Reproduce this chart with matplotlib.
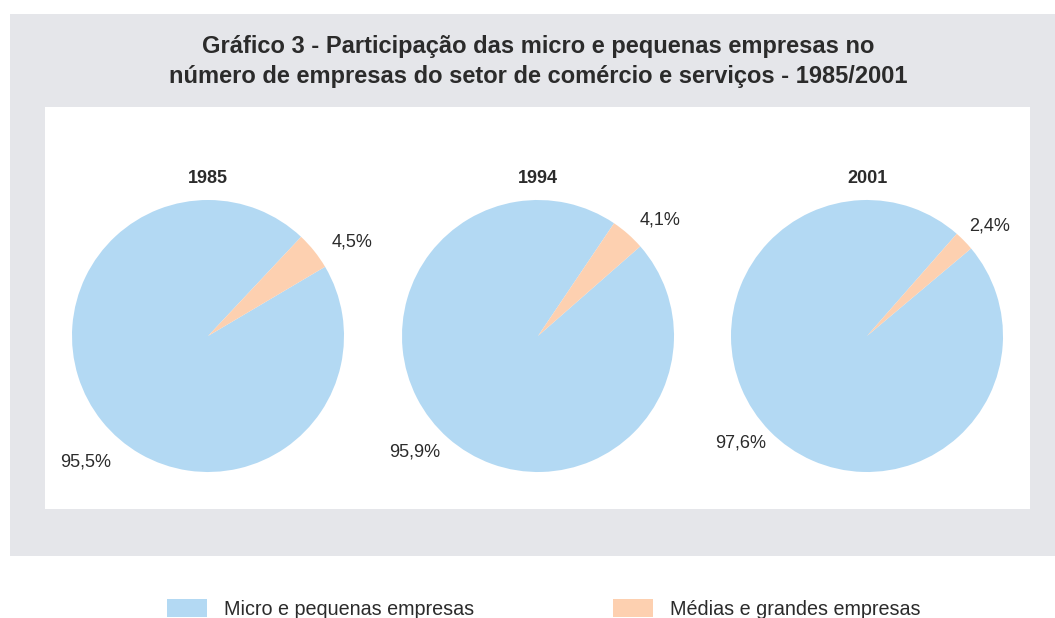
import matplotlib.pyplot as plt
from matplotlib.patches import Rectangle, Patch

plt.rcParams['font.family'] = ['Liberation Sans', 'DejaVu Sans']

years = ['1985', '1994', '2001']
micro = [95.5, 95.9, 97.6]
medias = [4.5, 4.1, 2.4]
micro_lbl = ['95,5%', '95,9%', '97,6%']
medias_lbl = ['4,5%', '4,1%', '2,4%']
series_names = ['Micro e pequenas empresas', 'Médias e grandes empresas']

blue = '#b3d9f3'
orange = '#fdd0b0'
txt = '#2b2b2b'

W, H = 1055, 618
fig = plt.figure(figsize=(W / 100, H / 100), dpi=100)

def fx(x):
    return x / W

def fy(y):
    return (H - y) / H

# gray panel and white box
fig.patches.append(Rectangle((fx(10), fy(556)), fx(1055) - fx(10), fy(14) - fy(556),
                             transform=fig.transFigure, facecolor='#e5e6ea', edgecolor='none', zorder=0))
fig.patches.append(Rectangle((fx(45), fy(509)), fx(1030) - fx(45), fy(107) - fy(509),
                             transform=fig.transFigure, facecolor='white', edgecolor='none', zorder=0))

fig.text(fx(538), fy(47), 'Gráfico 3 - Participação das micro e pequenas empresas no',
         ha='center', va='center', fontsize=17, fontweight='bold', color=txt)
fig.text(fx(538), fy(76), 'número de empresas do setor de comércio e serviços - 1985/2001',
         ha='center', va='center', fontsize=17, fontweight='bold', color=txt)

centers = [208, 538, 867]
starts = [46.8, 56.0, 48.7]
small_pos = [(1.06, 0.69), (0.90, 0.85), (0.90, 0.81)]
big_pos = [(-0.90, -0.93), (-0.91, -0.85), (-0.93, -0.79)]
R = 136
half = 185
lim = half / R

for i in range(3):
    cx, cy = centers[i], 336
    ax = fig.add_axes([fx(cx - half), fy(cy + half), 2 * half / W, 2 * half / H])
    ax.set_zorder(3)
    ax.pie([micro[i], medias[i]], colors=[blue, orange], startangle=starts[i],
           wedgeprops=dict(linewidth=0))
    ax.set_xlim(-lim, lim)
    ax.set_ylim(-lim, lim)
    ax.set_aspect('equal')
    ax.axis('off')
    ax.text(0, 1.16, years[i], ha='center', va='center', fontsize=13, fontweight='bold', color=txt)
    ax.text(small_pos[i][0], small_pos[i][1], medias_lbl[i], ha='center', va='center', fontsize=13, color=txt)
    ax.text(big_pos[i][0], big_pos[i][1], micro_lbl[i], ha='center', va='center', fontsize=13, color=txt)

handles = [Patch(facecolor=blue, edgecolor='none', label=series_names[0]),
           Patch(facecolor=orange, edgecolor='none', label=series_names[1])]
fig.legend(handles=handles, loc='center', bbox_to_anchor=(fx(544), fy(609)), ncol=2,
           frameon=False, fontsize=14.2, handlelength=2.03, handleheight=1.0,
           handletextpad=0.86, columnspacing=7.05, labelcolor=txt)

fig.savefig('out.png', dpi=100)
